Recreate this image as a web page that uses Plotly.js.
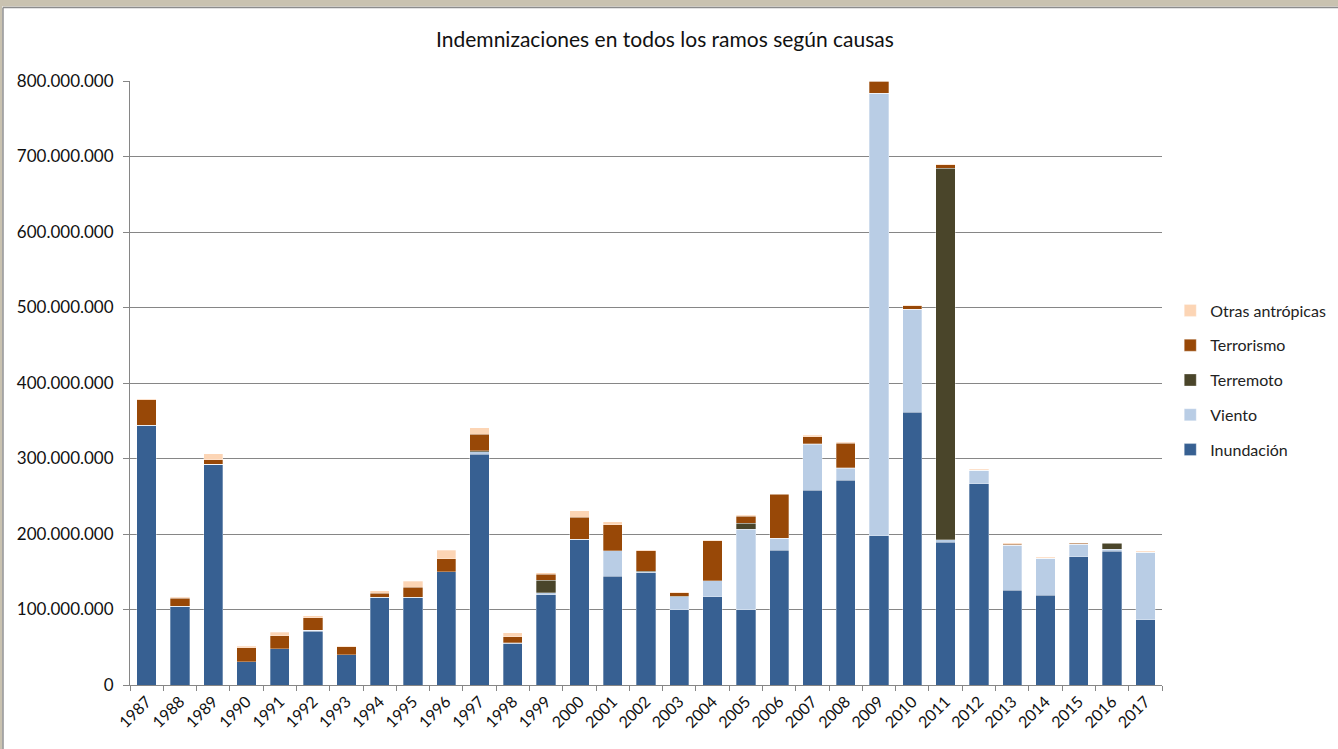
<!DOCTYPE html>
<html>
<head>
<meta charset="utf-8">
<script src="https://cdn.plot.ly/plotly-3.0.1.min.js"></script>
<style>
html,body{margin:0;padding:0;background:#fff;}
#chart{width:1338px;height:749px;}
</style>
</head>
<body>
<div id="chart"></div>
<script>
// Years (categories)
var years = ["1987","1988","1989","1990","1991","1992","1993","1994","1995","1996",
             "1997","1998","1999","2000","2001","2002","2003","2004","2005","2006",
             "2007","2008","2009","2010","2011","2012","2013","2014","2015","2016","2017"];

// Values in millions of euros
var inundacion = [344, 104, 292, 31, 48, 71, 40, 116, 116, 150,
                  305.5, 55, 119.5, 193, 144, 149.5, 100, 117, 100, 178.5,
                  258, 271.5, 198, 361.5, 189, 266.5, 125.5, 119, 170, 177, 86.7];
var viento     = [0, 0, 0.5, 0, 0, 1.5, 0, 0, 0, 0,
                  3.5, 0, 2.5, 0, 34, 0, 17, 21, 106.5, 16,
                  61, 15.5, 586, 136.5, 3.5, 18, 59.5, 49, 16.5, 2.7, 89];
var terremoto  = [0, 0, 0, 0, 0, 0, 0, 0, 0, 0,
                  1, 1, 17, 0, 0, 1.5, 0.7, 0, 8, 0,
                  0.7, 1, 0, 0, 492, 0, 0, 0, 0, 8, 0];
var terrorismo = [34, 11, 6, 18.5, 17, 16.5, 10.5, 5.5, 13.5, 17,
                  22, 8, 7.5, 29.5, 34.5, 26.5, 4.3, 53, 9.2, 58,
                  9, 32.5, 16, 4, 4.5, 0, 1.5, 0, 1.5, 0.5, 0];
var otras      = [1, 1, 7.5, 2, 5, 2.5, 0.8, 3.5, 8, 11.5,
                  8.5, 5, 2.3, 8, 4, 1.7, 1, 0.5, 1, 0.5,
                  2, 0.7, 0, 1, 0.5, 1, 1, 1, 0.5, 0, 1.5];

var seriesNames  = ["Inundación","Viento","Terremoto","Terrorismo","Otras antrópicas"];
var seriesData   = [inundacion, viento, terremoto, terrorismo, otras];
var seriesColors = ["#376092","#B9CDE5","#4A452A","#984807","#FCD5B5"];

var yTickVals = [0,100,200,300,400,500,600,700,800].map(function(v){return v*1e6;});

var traces = seriesNames.map(function(name, i){
  return {
    type: "bar",
    name: name,
    x: years,
    y: seriesData[i].map(function(v){return v*1e6;}),
    legendgroup: name,
    legendrank: seriesNames.length - i,
    marker: {color: seriesColors[i], line: {color: "rgba(255,255,255,0.5)", width: 0.6}}
  };
});

var fontFam = "Lato, 'Liberation Sans', Arial, sans-serif";

var layout = {
  width: 1338,
  height: 749,
  barmode: "stack",
  bargap: 0.42,
  separators: ",.",
  paper_bgcolor: "#ffffff",
  plot_bgcolor: "#ffffff",
  font: {family: fontFam, size: 15, color: "#262626"},
  margin: {l: 130, r: 176, t: 81, b: 64, pad: 0, autoexpand: false},
  title: {
    text: "Indemnizaciones en todos los ramos según causas",
    font: {family: fontFam, size: 21, color: "#111"},
    x: 0.497, xanchor: "center",
    y: 0.947, yanchor: "middle"
  },
  xaxis: {
    type: "category",
    tickangle: -45,
    ticks: "outside",
    tickson: "boundaries",
    ticklen: 5,
    tickcolor: "#868686",
    showline: true,
    linecolor: "#868686",
    linewidth: 1,
    showgrid: false,
    tickfont: {family: fontFam, size: 16, color: "#111"}
  },
  yaxis: {
    range: [0, 800e6],
    tickvals: yTickVals,
    tickformat: ",d",
    ticks: "outside",
    ticklen: 6,
    ticklabelstandoff: 6,
    tickcolor: "#868686",
    showline: true,
    linecolor: "#868686",
    linewidth: 1,
    showgrid: true,
    gridcolor: "#868686",
    gridwidth: 1,
    zeroline: false,
    tickfont: {family: fontFam, size: 17, color: "#111"}
  },
  legend: {
    x: 1.008, xanchor: "left",
    y: 0.505, yanchor: "middle",
    traceorder: "grouped",
    tracegroupgap: 11,
    font: {family: fontFam, size: 16, color: "#222"},
    itemwidth: 30
  },
  shapes: [
    {type: "rect", xref: "paper", yref: "paper", x0: -0.13, x1: 1.2, y0: 1.1234, y1: 1.14,
     fillcolor: "#c9c2b0", line: {width: 0}},
    {type: "rect", xref: "paper", yref: "paper", x0: -0.13, x1: -0.1240, y0: -0.2, y1: 1.14,
     fillcolor: "#c9c2b0", line: {width: 0}},
    {type: "line", xref: "paper", yref: "paper", x0: -0.1231, x1: 1.2, y0: 1.1217, y1: 1.1217,
     line: {color: "#8c8c8c", width: 1.5}},
    {type: "line", xref: "paper", yref: "paper", x0: -0.1231, x1: -0.1231, y0: -0.2, y1: 1.1217,
     line: {color: "#8c8c8c", width: 1.5}}
  ]
};

Plotly.newPlot("chart", traces, layout, {displayModeBar: false, staticPlot: true});
</script>
</body>
</html>
